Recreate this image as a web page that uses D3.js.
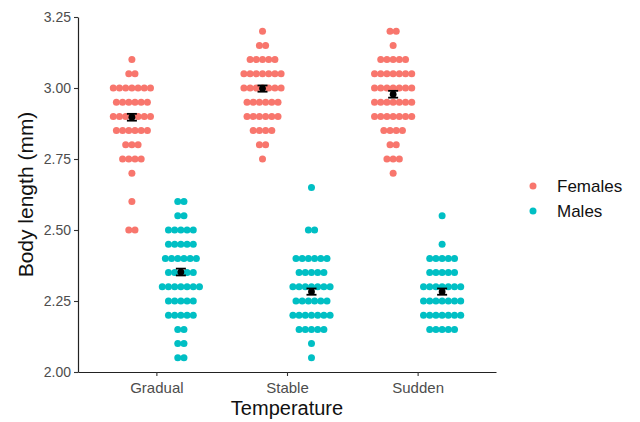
<!DOCTYPE html>
<html>
<head>
<meta charset="utf-8">
<script src="https://cdn.jsdelivr.net/npm/d3@7"></script>
<style>
  body { margin: 0; background: #fff; }
  svg { font-family: "Liberation Sans", Arial, sans-serif; }
</style>
</head>
<body>
<svg width="640" height="422"></svg>
<script>
let width = 640;
let height = 422;

// categories
const temps = ["Gradual", "Stable", "Sudden"];
const sexes = ["Females", "Males"];
const yTicks = [2.00, 2.25, 2.50, 2.75, 3.00, 3.25];

// observations as [body length, how many]
const gradualFemales = [[3.10,1],[3.05,2],[3.00,7],[2.95,6],[2.90,7],[2.85,6],[2.80,3],[2.75,4],[2.70,1],[2.60,1],[2.50,2]];
const gradualMales = [[2.60,2],[2.55,2],[2.50,5],[2.45,5],[2.40,6],[2.35,5],[2.30,7],[2.25,5],[2.20,5],[2.15,2],[2.10,2],[2.05,2]];
const stableFemales = [[3.20,1],[3.15,2],[3.10,5],[3.05,7],[3.00,7],[2.95,6],[2.90,6],[2.85,4],[2.80,2],[2.75,1]];
const stableMales = [[2.65,1],[2.50,2],[2.40,6],[2.35,5],[2.30,7],[2.25,6],[2.20,7],[2.15,5],[2.10,1],[2.05,1]];
const suddenFemales = [[3.20,2],[3.15,1],[3.10,5],[3.05,7],[3.00,7],[2.95,7],[2.90,7],[2.85,4],[2.80,2],[2.75,3],[2.70,1]];
const suddenMales = [[2.55,1],[2.45,1],[2.40,5],[2.35,5],[2.30,7],[2.25,7],[2.20,7],[2.15,5]];

// group means and standard errors
const femaleMeans = [2.897, 2.998, 2.978];
const maleMeans = [2.352, 2.283, 2.283];
const femaleSE = [0.012, 0.011, 0.012];
const maleSE = [0.012, 0.011, 0.011];

const colors = { Females: "#F8766D", Males: "#00BFC4" };

let groups = [
  { temp: "Gradual", sex: "Females", obs: gradualFemales },
  { temp: "Gradual", sex: "Males", obs: gradualMales },
  { temp: "Stable", sex: "Females", obs: stableFemales },
  { temp: "Stable", sex: "Males", obs: stableMales },
  { temp: "Sudden", sex: "Females", obs: suddenFemales },
  { temp: "Sudden", sex: "Males", obs: suddenMales }
];

let svg = d3.select("svg");

let x = d3.scalePoint().domain(temps).range([78, 496]).padding(0.6);
let y = d3.scaleLinear().domain([2, 3.25]).range([372, 17]);
let dodge = d3.scalePoint().domain(sexes).range([-0.1875, 0.1875]);
let spacing = 6.2;

// beeswarm-ish rows: points sharing a value are spread sideways
let pts = [];
groups.forEach(g => {
  let cx = x(g.temp) + dodge(g.sex) * x.step();
  g.obs.forEach(([v, n]) => {
    for (let i = 0; i < n; i++) {
      pts.push({ sex: g.sex, x: cx + (i - (n - 1) / 2) * spacing, v: v });
    }
  });
});

svg.append("g").selectAll("circle")
  .data(pts)
  .join("circle")
  .attr("cx", d => d.x)
  .attr("cy", d => y(d.v))
  .attr("r", 3.5)
  .attr("fill", d => colors[d.sex]);

// means with error bars
let means = [];
temps.forEach((t, i) => {
  means.push({ temp: t, sex: "Females", m: femaleMeans[i], se: femaleSE[i] });
  means.push({ temp: t, sex: "Males", m: maleMeans[i], se: maleSE[i] });
});
let mg = svg.append("g").selectAll("g").data(means).join("g")
  .attr("transform", d => "translate(" + (x(d.temp) + dodge(d.sex) * x.step()) + ",0)");
mg.append("line")
  .attr("y1", d => y(d.m - d.se)).attr("y2", d => y(d.m + d.se))
  .attr("stroke", "black").attr("stroke-width", 1.5);
mg.selectAll(".cap").data(d => [d.m - d.se, d.m + d.se]).join("line")
  .attr("x1", -5).attr("x2", 5)
  .attr("y1", d => y(d)).attr("y2", d => y(d))
  .attr("stroke", "black").attr("stroke-width", 1.8);
mg.append("circle")
  .attr("cy", d => y(d.m)).attr("r", 3.4).attr("fill", "black");

// axes
let yAxis = svg.append("g")
  .attr("transform", "translate(78,0)")
  .call(d3.axisLeft(y).tickValues(yTicks).tickFormat(d3.format(".2f")).tickSize(4).tickSizeOuter(0));
let xAxis = svg.append("g")
  .attr("transform", "translate(0,372)")
  .call(d3.axisBottom(x).tickSize(4).tickSizeOuter(0));
[yAxis, xAxis].forEach(a => {
  a.select(".domain").attr("stroke", "#222").attr("stroke-width", 1.2);
  a.selectAll(".tick line").attr("stroke", "#333").attr("stroke-width", 1.1);
  a.selectAll(".tick text").attr("fill", "#4D4D4D")
    .style("font-family", "Liberation Sans, Arial, sans-serif");
});
yAxis.selectAll(".tick text").attr("x", -7).style("font-size", "14px");
xAxis.selectAll(".tick text").attr("y", 10).style("font-size", "15px");

svg.append("text")
  .attr("x", 287).attr("y", 415)
  .attr("text-anchor", "middle")
  .style("font-size", "20px")
  .attr("fill", "#111")
  .text("Temperature");

svg.append("text")
  .attr("transform", "translate(33,194.5) rotate(-90)")
  .attr("text-anchor", "middle")
  .style("font-size", "21px")
  .attr("fill", "#111")
  .text("Body length (mm)");

// legend
let leg = svg.append("g").selectAll("g").data(sexes).join("g")
  .attr("transform", (d, i) => "translate(533," + (186 + i * 25) + ")");
leg.append("circle").attr("r", 3.5).attr("fill", d => colors[d]);
leg.append("text")
  .attr("x", 24).attr("dy", "0.35em")
  .style("font-size", "17px")
  .attr("fill", "#111")
  .text(d => d);
</script>
</body>
</html>
